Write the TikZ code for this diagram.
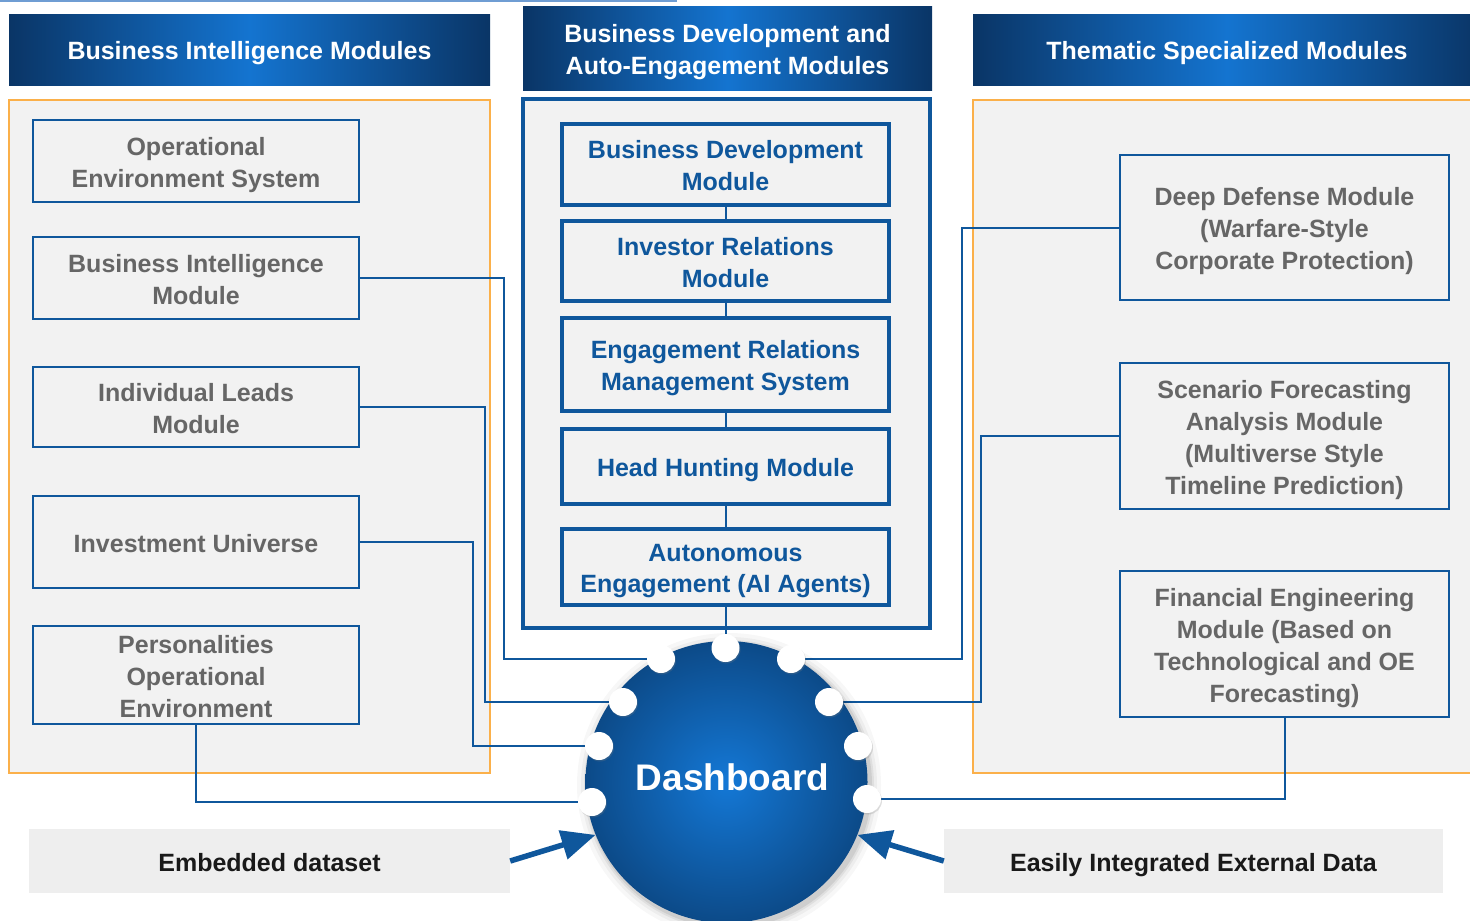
\documentclass[tikz,border=0pt]{standalone}
\usepackage{fontspec}
\setmainfont{Liberation Sans}
\usetikzlibrary{arrows.meta,shadows}
\definecolor{hdark}{HTML}{0A3566}
\definecolor{hmid}{HTML}{1474D0}
\definecolor{lblue}{HTML}{0F579C}
\definecolor{orng}{HTML}{FBB04A}
\definecolor{panelc}{HTML}{F2F2F2}
\definecolor{gtext}{HTML}{666666}
\definecolor{bboxc}{HTML}{EEEEEE}
\definecolor{cin}{HTML}{1478D6}
\definecolor{cout}{HTML}{0C4A88}
\definecolor{topline}{HTML}{6F9DD3}
\newcommand\mytopstrut{\rule{0pt}{26pt}}
\begin{document}
\begin{tikzpicture}[x=1pt,y=-1pt,
  font=\bfseries\fontsize{25}{32}\selectfont,
  tstrut/.style={execute at begin node={\rule{0pt}{26pt}},
    execute at end node={\rule[-6pt]{0pt}{6pt}}},
  hdr/.style={shade, left color=hdark, right color=hdark, middle color=hmid,
    text=white, inner sep=0pt, align=center, tstrut},
  grp/.style={draw=orng, line width=1.5pt, fill=panelc},
  mgrp/.style={draw=lblue, line width=3.5pt, fill=panelc},
  lbox/.style={draw=lblue, line width=2pt, fill=panelc, text=gtext,
    inner sep=0pt, align=center, tstrut},
  mbox/.style={draw=lblue, line width=3.5pt, fill=panelc, text=lblue,
    inner sep=0pt, align=center, tstrut},
  bbox/.style={fill=bboxc, text=black!90, inner sep=0pt, align=center, tstrut},
  conn/.style={draw=lblue, line width=2pt},
  dotn/.style={circle, fill=white, minimum size=28pt, inner sep=0pt,
    drop shadow={shadow xshift=1pt, shadow yshift=-1.5pt, opacity=0.25}},
  bigarrow/.style={draw=lblue, line width=5.5pt,
    -{Triangle[length=34pt,width=29pt]}}
]
\useasboundingbox (0,0) rectangle (1470,921);
\clip (0,0) rectangle (1470,921);

\draw[topline, line width=1.5pt] (0,0.75) -- (677,0.75);

% headers
\node[hdr, minimum width=481pt, minimum height=71pt] (h1) at (249.5,49.5) {Business Intelligence Modules};
\node[hdr, minimum width=409pt, minimum height=84pt] (h2) at (727.5,48) {\mytopstrut Business Development and\\Auto-Engagement Modules};
\node[hdr, minimum width=508pt, minimum height=71pt] (h3) at (1227,49.5) {Thematic Specialized Modules};

% panels
\draw[grp] (9,100) rectangle (490,773);
\draw[mgrp] (523,99) rectangle (930,628);
\draw[grp] (973,100) rectangle (1485,773);

% left boxes
\node[lbox, minimum width=326pt, minimum height=82pt] (oes) at (196,161) {\mytopstrut Operational\\Environment System};
\node[lbox, minimum width=326pt, minimum height=82pt] (bim) at (196,278) {\mytopstrut Business Intelligence\\Module};
\node[lbox, minimum width=326pt, minimum height=80pt] (ilm) at (196,407) {\mytopstrut Individual Leads\\Module};
\node[lbox, minimum width=326pt, minimum height=92pt] (iu) at (196,542) {Investment Universe};
\node[lbox, minimum width=326pt, minimum height=98pt] (poe) at (196,675) {\mytopstrut Personalities\\Operational\\Environment};

% middle boxes
\node[mbox, minimum width=327pt, minimum height=81pt] (bdm) at (725.5,164.5) {\mytopstrut Business Development\\Module};
\node[mbox, minimum width=327pt, minimum height=80pt] (irm) at (725.5,261) {\mytopstrut Investor Relations\\Module};
\node[mbox, minimum width=327pt, minimum height=93pt] (erms) at (725.5,364.5) {\mytopstrut Engagement Relations\\Management System};
\node[mbox, minimum width=327pt, minimum height=75pt] (hhm) at (725.5,466.5) {Head Hunting Module};
\node[mbox, minimum width=327pt, minimum height=76pt, font=\bfseries\fontsize{25}{31}\selectfont] (ae) at (725.5,567) {\mytopstrut Autonomous\\Engagement (AI Agents)};

% right boxes
\node[lbox, minimum width=329pt, minimum height=145pt] (ddm) at (1284.5,227.5) {\mytopstrut Deep Defense Module\\(Warfare-Style\\Corporate Protection)};
\node[lbox, minimum width=329pt, minimum height=146pt] (sfam) at (1284.5,436) {\mytopstrut Scenario Forecasting\\Analysis Module\\(Multiverse Style\\Timeline Prediction)};
\node[lbox, minimum width=329pt, minimum height=146pt] (fem) at (1284.5,644) {\mytopstrut Financial Engineering\\Module (Based on\\Technological and OE\\Forecasting)};

% bottom boxes
\node[bbox, minimum width=481pt, minimum height=64pt] (emb) at (269.5,861) {Embedded dataset};
\node[bbox, minimum width=499pt, minimum height=64pt] (ext) at (1193.5,861) {Easily Integrated External Data};

% dot positions
\coordinate (d1) at (725.5,648);
\coordinate (d2) at (661,659);
\coordinate (d3) at (791,659);
\coordinate (d4) at (623,702);
\coordinate (d5) at (829,702);
\coordinate (d6) at (599,746);
\coordinate (d7) at (858,746);
\coordinate (d8) at (592,802);
\coordinate (d9) at (867,799);

% middle chain
\draw[conn] (bdm) -- (irm);
\draw[conn] (irm) -- (erms);
\draw[conn] (erms) -- (hhm);
\draw[conn] (hhm) -- (ae);
\draw[conn] (ae.south) -- (d1);

% connectors
\draw[conn] (bim.east) -- ++(144,0) |- (d2);
\draw[conn] (ilm.east) -- ++(125,0) |- (d4);
\draw[conn] (iu.east) -- ++(113,0) |- (d6);
\draw[conn] (poe.south) |- (d8);
\draw[conn] (ddm.west) -- ++(-157,0) |- (d3);
\draw[conn] (sfam.west) -- ++(-138,0) |- (d5);
\draw[conn] (fem.south) |- (d9);

% dashboard glow
\foreach \r/\o in {152/0.03,148/0.04,145/0.06,143/0.08}
  \fill[black, opacity=\o] (729,785) circle[radius=\r pt];
\node[circle, minimum size=282pt, inner sep=0pt, inner color=cin, outer color=cout,
  text=white, font=\bfseries\fontsize{37}{40}\selectfont,
  execute at end node={\rule[-9pt]{0pt}{9pt}}] (dash) at (726.5,782) {\kern12pt Dashboard};

% dots
\foreach \i in {1,...,9}
  \node[dotn] (dot\i) at (d\i) {};

% arrows
\draw[bigarrow] (emb.east) -- (dash.202);
\draw[bigarrow] (ext.west) -- (dash.338);
\end{tikzpicture}
\end{document}
